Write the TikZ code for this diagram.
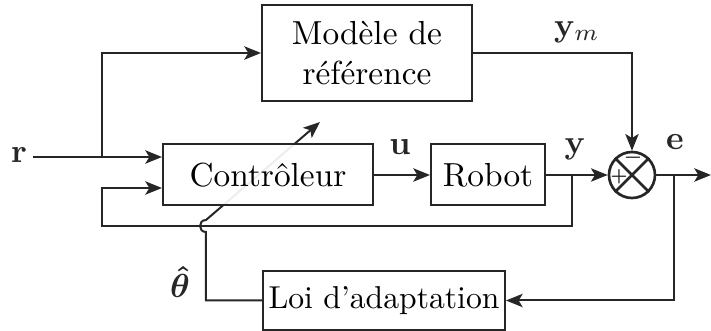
\documentclass[tikz,border=0pt]{standalone}
\usepackage{amsmath,bm}
\usetikzlibrary{arrows.meta}
\definecolor{ink}{HTML}{262626}
\begin{document}
\begin{tikzpicture}[x=0.3pt,y=-0.3pt,
  line width=0.6pt, draw=ink,
  >={Stealth[length=5pt,width=4pt,inset=1.2pt]},
  blk/.style={draw=ink, fill=white, fill opacity=0.92, text opacity=1, inner sep=0pt, align=center},
  lbl/.style={anchor=base, inner sep=0pt, text=ink},
  sgn/.style={inner sep=0pt, font=\fontsize{4.5}{5}\selectfont\bfseries, text=ink}]
\useasboundingbox (0,0) rectangle (711,331);
% adaptation law block and its output (drawn first, passes behind controller)
\node[blk, minimum width=72.6pt, minimum height=17.7pt, font=\fontsize{9.5}{11}\selectfont] (loi) at (384,300.5) {Loi d’adaptation};
\coordinate (hopA) at (206,232);
\coordinate (hopB) at (206,220);
\coordinate (tip) at (320,122);
\draw[->] (loi.west) -| (hopA) .. controls (198,232) and (198,220) .. (hopB) -- (tip);
% blocks
\node[blk, minimum width=63pt, minimum height=28.8pt] (model) at (367,53) {Modèle de\\référence};
\node[blk, minimum width=63pt, minimum height=18.3pt] (ctrl) at (268,175) {Contrôleur};
\node[blk, minimum width=34.2pt, minimum height=18.3pt] (robot) at (488,175) {Robot};
\node[draw=ink, circle, line width=0.8pt, minimum size=13.8pt, inner sep=0pt] (sum) at (632,175) {};
\draw[line width=0.8pt] (sum.north east) -- (sum.south west) (sum.north west) -- (sum.south east);
\node[sgn] (plus) at (619,176.5) {+};
\node[sgn] (minus) at (633,159.5) {\textminus};
% coordinates
\coordinate (rin) at (33,157);
\coordinate (br) at (102,157);
\coordinate (fb) at (102,188);
\coordinate (yb) at (572,175);
\coordinate (fbr) at (572,226);
\coordinate (fbl) at (102,226);
\coordinate (eb) at (674,175);
\coordinate (out) at (711,175);
% connectors
\draw[->] (rin) -- (ctrl.west |- rin);
\draw[->] (br) |- (model.west);
\draw[->] (ctrl.east) -- (robot.west);
\draw[->] (robot.east) -- (sum.west);
\draw[->] (model.east) -| (sum.north);
\draw[->] (sum.east) -- (out);
\draw[->] (eb) |- (loi.east);
\draw[->] (yb) -- (fbr) -- (fbl) -- (fb) -- (ctrl.west |- fb);
% labels
\node[lbl] (lr) at (19,163) {$\mathbf{r}$};
\node[lbl] (lu) at (400,155) {$\mathbf{u}$};
\node[lbl] (ly) at (575,153) {$\mathbf{y}$};
\node[lbl] (le) at (675,150) {$\mathbf{e}$};
\node[lbl] (lym) at (577,36) {$\mathbf{y}_m$};
\node[lbl] (lth) at (180,298) {$\bm{\hat\theta}$};
\end{tikzpicture}
\end{document}
